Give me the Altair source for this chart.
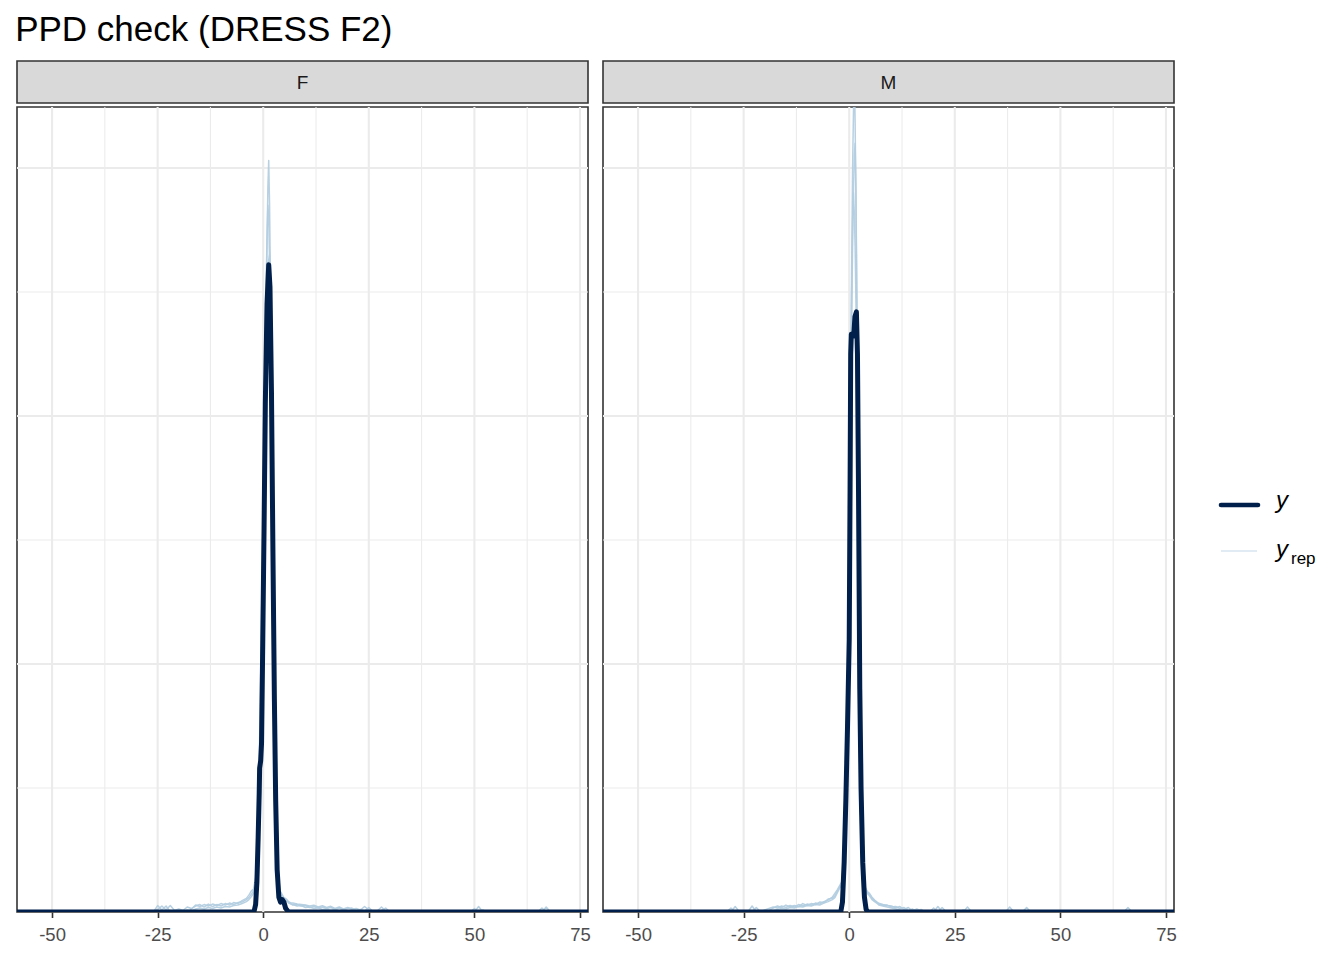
import altair as alt
import pandas as pd

TITLE = "PPD check (DRESS F2)"
PANELS = ["F", "M"]

# axis / grid values
x_ticks = [-50, -25, 0, 25, 50, 75]
x_minor = [-37.5, -12.5, 12.5, 37.5, 62.5]
y_major = [0.1, 0.2, 0.3]
y_minor = [0.05, 0.15, 0.25]
X_DOMAIN = [-58.3, 76.9]
Y_DOMAIN = [0, 0.3246]

# ---------------- panel F ----------------
yF_x = [-58.3, -2.2, -1.8, -1.5, -1.2, -0.95, -0.85, -0.6, -0.4, -0.1, 0.2, 0.5, 0.9, 1.3,
        1.6, 1.95, 2.3, 2.65, 2.95, 3.3, 3.7, 4.1, 4.5, 4.9, 5.3, 6.0, 76.9]
yF_d = [0, 0, 0.003, 0.012, 0.03, 0.048, 0.058, 0.061, 0.068, 0.11, 0.155, 0.205, 0.245, 0.261,
        0.252, 0.21, 0.145, 0.085, 0.045, 0.017, 0.006, 0.004, 0.005, 0.004, 0.0015, 0, 0]

gridF = [-58.3,
         -27, -26, -25, -24, -23, -22, -21, -20, -19, -18, -17, -16, -15, -14, -13, -12, -11, -10,
         -9, -8, -7, -6, -5, -4,
         -3.4, -2.8, -2.3, -1.8, -1.4, -1.0, -0.6, -0.2, 0.2, 0.6, 0.9, 1.1, 1.3, 1.5, 1.7, 2.0,
         2.4, 2.8, 3.2, 3.6, 4.0, 4.5, 5.0, 5.5, 6.0, 6.6,
         7, 8, 9, 10, 11, 12, 13, 14, 15, 16, 17, 18, 19, 20, 21, 22, 23, 24, 25, 26, 27, 28, 29, 30,
         49, 50, 51, 52, 53, 65, 66, 67, 68,
         76.9]

repF1 = [0,
         0, 0, 0.0026, 0.0008, 0.0024, 0, 0.0006, 0, 0.0004, 0, 0.0012, 0.0028, 0.0022, 0.003,
         0.0024, 0.0032, 0.0026, 0.0034, 0.0028, 0.0036, 0.003, 0.0038, 0.004, 0.005,
         0.0058, 0.0072, 0.0085, 0.012, 0.022, 0.048, 0.085, 0.13, 0.18, 0.235, 0.27, 0.292, 0.303,
         0.285, 0.255, 0.205, 0.13, 0.065, 0.028, 0.012, 0.0075, 0.006, 0.0058, 0.005, 0.0042, 0.0036,
         0.0036, 0.0032, 0.003, 0.0028, 0.0024, 0.0027, 0.002, 0.0025, 0.0018, 0.0023, 0.0014, 0.002,
         0.0012, 0.0018, 0.001, 0.0014, 0.0008, 0.0022, 0.0008, 0.0004, 0.0004, 0.002, 0.0004, 0,
         0, 0, 0.0022, 0, 0, 0, 0, 0.002, 0,
         0]
repF2 = [0,
         0, 0.0004, 0.001, 0.0024, 0.0008, 0.0026, 0.0006, 0.0012, 0.0006, 0.002, 0.0014, 0.0024,
         0.003, 0.002, 0.0032, 0.0022, 0.003, 0.0024, 0.0034, 0.0028, 0.0038, 0.0034, 0.0046, 0.0055,
         0.0068, 0.0085, 0.0092, 0.014, 0.028, 0.055, 0.095, 0.142, 0.195, 0.245, 0.272, 0.285, 0.28,
         0.262, 0.235, 0.19, 0.12, 0.06, 0.026, 0.011, 0.0068, 0.0062, 0.0048, 0.0052, 0.0036, 0.0032,
         0.0028, 0.003, 0.0024, 0.0026, 0.0018, 0.0022, 0.0016, 0.002, 0.0014, 0.0018, 0.001, 0.0016,
         0.0008, 0.0014, 0.0016, 0.0006, 0.001, 0.0004, 0.0018, 0.0002, 0, 0.0006, 0.0016, 0,
         0, 0.0014, 0, 0.0008, 0, 0, 0.0016, 0, 0,
         0]
repF3 = [0,
         0, 0, 0, 0, 0, 0.0006, 0, 0, 0, 0.0008, 0.0004, 0.0012, 0.0016, 0.0012, 0.0018, 0.0014,
         0.002, 0.0016, 0.0022, 0.002, 0.0026, 0.0028, 0.0034, 0.0042,
         0.005, 0.0062, 0.0075, 0.011, 0.02, 0.042, 0.075, 0.12, 0.17, 0.215, 0.24, 0.255, 0.263,
         0.265, 0.25, 0.2, 0.135, 0.07, 0.032, 0.014, 0.0085, 0.007, 0.0055, 0.0045, 0.004, 0.0033,
         0.003, 0.0024, 0.0026, 0.0018, 0.002, 0.0014, 0.0017, 0.001, 0.0012, 0.0006, 0.001, 0.0004,
         0.0006, 0.0002, 0.0004, 0, 0, 0, 0, 0, 0, 0, 0, 0,
         0, 0, 0, 0, 0, 0, 0, 0, 0,
         0]

# ---------------- panel M ----------------
yM_x = [-58.3, -2.0, -1.6, -1.2, -0.8, -0.4, 0.0, 0.2, 0.35, 0.5, 0.8, 1.1, 1.35, 1.7, 1.95,
        2.2, 2.5, 2.8, 3.2, 3.6, 4.0, 4.4, 76.9]
yM_d = [0, 0, 0.004, 0.02, 0.045, 0.075, 0.11, 0.17, 0.225, 0.233, 0.232, 0.233, 0.24, 0.242, 0.225,
        0.17, 0.09, 0.05, 0.02, 0.006, 0.001, 0, 0]

gridM = [-58.3,
         -29, -28, -27, -26, -25, -24, -23, -22, -21, -20, -19, -18, -17, -16, -15, -14, -13, -12,
         -11, -10, -9, -8, -7, -6, -5, -4,
         -3.4, -2.8, -2.3, -1.8, -1.4, -1.0, -0.6, -0.2, 0.2, 0.5, 0.8, 1.0, 1.2, 1.4, 1.6, 1.9,
         2.2, 2.6, 3.0, 3.4, 3.8, 4.3, 4.8, 5.4, 6.0, 6.6,
         7, 8, 9, 10, 11, 12, 13, 14, 15, 16, 17, 18, 19, 20, 21, 22, 23, 24, 25, 26, 27, 28, 29, 30,
         37, 38, 39, 41, 42, 43, 65, 66, 67,
         76.9]

repM1 = [0,
         0, 0, 0.0022, 0, 0, 0, 0.0024, 0, 0, 0.0008, 0.0014, 0.002, 0.0016, 0.0024, 0.0018, 0.0026,
         0.002, 0.003, 0.0024, 0.0032, 0.0028, 0.0036, 0.0032, 0.0042, 0.0048, 0.006,
         0.0075, 0.009, 0.0105, 0.012, 0.018, 0.038, 0.065, 0.1, 0.17, 0.245, 0.3, 0.322, 0.34,
         0.318, 0.285, 0.22, 0.15, 0.08, 0.035, 0.016, 0.01, 0.0082, 0.0075, 0.006, 0.0048, 0.004,
         0.0035, 0.003, 0.0026, 0.0024, 0.0016, 0.0022, 0.001, 0.0018, 0.0004, 0.0012, 0.0004, 0.0002,
         0, 0, 0.0022, 0, 0, 0, 0, 0, 0, 0.002, 0, 0,
         0, 0.002, 0, 0, 0.0018, 0, 0, 0.0018, 0,
         0]
repM2 = [0,
         0, 0.0016, 0, 0, 0, 0, 0, 0.0018, 0, 0, 0.0006, 0.0016, 0.0024, 0.0018, 0.0028, 0.002,
         0.0026, 0.0022, 0.0034, 0.0026, 0.0034, 0.003, 0.004, 0.0038, 0.0052, 0.0055,
         0.0065, 0.0085, 0.0098, 0.0115, 0.02, 0.04, 0.07, 0.105, 0.165, 0.225, 0.27, 0.29, 0.305,
         0.31, 0.29, 0.23, 0.16, 0.085, 0.038, 0.017, 0.0095, 0.0078, 0.007, 0.0055, 0.0045, 0.0038,
         0.0032, 0.0026, 0.0028, 0.002, 0.0022, 0.0014, 0.0018, 0.0006, 0.0012, 0.0002, 0.001, 0,
         0, 0.0016, 0, 0.0018, 0, 0, 0, 0, 0.0008, 0, 0, 0,
         0, 0, 0, 0, 0, 0, 0, 0, 0,
         0]
repM3 = [0,
         0, 0, 0, 0, 0, 0, 0, 0, 0, 0, 0, 0.0006, 0.001, 0.0014, 0.0012, 0.0018, 0.0016, 0.0022,
         0.002, 0.0026, 0.0024, 0.003, 0.0028, 0.0036, 0.0042, 0.005,
         0.0058, 0.0078, 0.0095, 0.0108, 0.019, 0.036, 0.066, 0.11, 0.18, 0.24, 0.278, 0.29, 0.282,
         0.268, 0.245, 0.2, 0.14, 0.075, 0.033, 0.015, 0.0092, 0.0075, 0.0065, 0.005, 0.0042, 0.0035,
         0.0028, 0.0024, 0.002, 0.0016, 0.0012, 0.0008, 0.0004, 0, 0, 0, 0, 0,
         0, 0, 0, 0, 0, 0, 0, 0, 0, 0, 0, 0,
         0, 0, 0, 0, 0, 0, 0, 0, 0,
         0]

# legend
legend_labels = ["y", "y", "rep"]

DARK = "#011f4b"
LIGHT = "#b3cde0"
FONT = "Liberation Sans"
PW, PH = 571, 805


def make_panel(name, obs_x, obs_d, grid, reps):
    obs = pd.DataFrame({"x": obs_x, "density": obs_d})
    rep_df = pd.concat(
        [pd.DataFrame({"x": grid, "density": r, "draw": f"rep{i}"}) for i, r in enumerate(reps)],
        ignore_index=True,
    )
    xs = alt.Scale(domain=X_DOMAIN, nice=False, zero=False)
    ys = alt.Scale(domain=Y_DOMAIN, nice=False, zero=False)
    xaxis = alt.Axis(values=x_ticks, title=None, grid=False, domain=False, ticks=True,
                     tickColor="#333333", tickSize=5.5, tickWidth=1.6,
                     labelFontSize=18.5, labelColor="#4D4D4D", labelFont=FONT,
                     labelPadding=8, labelExpr="'' + datum.value")

    gx_major = alt.Chart(pd.DataFrame({"x": x_ticks})).mark_rule(
        color="#EBEBEB", strokeWidth=2.1).encode(x=alt.X("x:Q", scale=xs, axis=xaxis))
    gx_minor = alt.Chart(pd.DataFrame({"x": x_minor})).mark_rule(
        color="#EBEBEB", strokeWidth=1.05).encode(x=alt.X("x:Q", scale=xs, axis=xaxis))
    gy_major = alt.Chart(pd.DataFrame({"density": y_major})).mark_rule(
        color="#EBEBEB", strokeWidth=2.1).encode(y=alt.Y("density:Q", scale=ys, axis=None))
    gy_minor = alt.Chart(pd.DataFrame({"density": y_minor})).mark_rule(
        color="#EBEBEB", strokeWidth=1.05).encode(y=alt.Y("density:Q", scale=ys, axis=None))

    rep_lines = alt.Chart(rep_df).mark_line(
        color=LIGHT, opacity=0.95, strokeWidth=1.5, clip=True, strokeJoin="round").encode(
        x=alt.X("x:Q", scale=xs, axis=xaxis),
        y=alt.Y("density:Q", scale=ys, axis=None),
        detail="draw:N",
    )
    obs_line = alt.Chart(obs).mark_line(
        color=DARK, strokeWidth=5, clip=True, strokeJoin="round", strokeCap="round").encode(
        x=alt.X("x:Q", scale=xs, axis=xaxis),
        y=alt.Y("density:Q", scale=ys, axis=None),
    )
    plot = alt.layer(gx_minor, gx_major, gy_minor, gy_major, rep_lines, obs_line).properties(
        width=PW, height=PH,
        view=alt.ViewBackground(fill="white", stroke="#333333", strokeWidth=1.6),
    )
    strip = alt.Chart(pd.DataFrame({"label": [name]})).mark_text(
        font=FONT, fontSize=19, color="#1A1A1A").encode(
        text="label:N", x=alt.value(PW / 2), y=alt.value(22)).properties(
        width=PW, height=42,
        view=alt.ViewBackground(fill="#D9D9D9", stroke="#333333", strokeWidth=1.6),
    )
    return alt.vconcat(strip, plot, spacing=1)


colF = make_panel(PANELS[0], yF_x, yF_d, gridF, [repF1, repF2, repF3])
colM = make_panel(PANELS[1], yM_x, yM_d, gridM, [repM1, repM2, repM3])

# manual legend
leg_y_line = alt.Chart(pd.DataFrame({"k": ["y"]})).mark_rule(
    color=DARK, strokeWidth=4.6, strokeCap="round").encode(
    x=alt.value(38), x2=alt.value(75), y=alt.value(444))
leg_rep_line = alt.Chart(pd.DataFrame({"k": ["yrep"]})).mark_rule(
    color=LIGHT, opacity=0.8, strokeWidth=1.2).encode(
    x=alt.value(38), x2=alt.value(74), y=alt.value(490))
leg_t1 = alt.Chart(pd.DataFrame({"label": [legend_labels[0]]})).mark_text(
    font=FONT, fontSize=24, fontStyle="italic", align="left", baseline="alphabetic",
    color="#000000").encode(text="label:N", x=alt.value(93), y=alt.value(447))
leg_t2 = alt.Chart(pd.DataFrame({"label": [legend_labels[1]]})).mark_text(
    font=FONT, fontSize=24, fontStyle="italic", align="left", baseline="alphabetic",
    color="#000000").encode(text="label:N", x=alt.value(93), y=alt.value(496))
leg_t3 = alt.Chart(pd.DataFrame({"label": [legend_labels[2]]})).mark_text(
    font=FONT, fontSize=17, align="left", baseline="alphabetic",
    color="#000000").encode(text="label:N", x=alt.value(108), y=alt.value(503))
legend = alt.layer(leg_y_line, leg_rep_line, leg_t1, leg_t2, leg_t3).properties(
    width=140, height=PH + 43,
    view=alt.ViewBackground(fill="white", stroke="transparent"),
)

panels = alt.hconcat(colF, colM, spacing=9)
chart = alt.hconcat(panels, legend, spacing=4).properties(
    title=alt.Title(TITLE, anchor="start", fontSize=35, font=FONT, fontWeight="normal",
                    color="#000000", offset=12),
    padding={"left": 7, "top": 5, "right": 0, "bottom": 0},
    background="white",
)

chart.save("out.html", embed_options={"renderer": "svg", "actions": False})
